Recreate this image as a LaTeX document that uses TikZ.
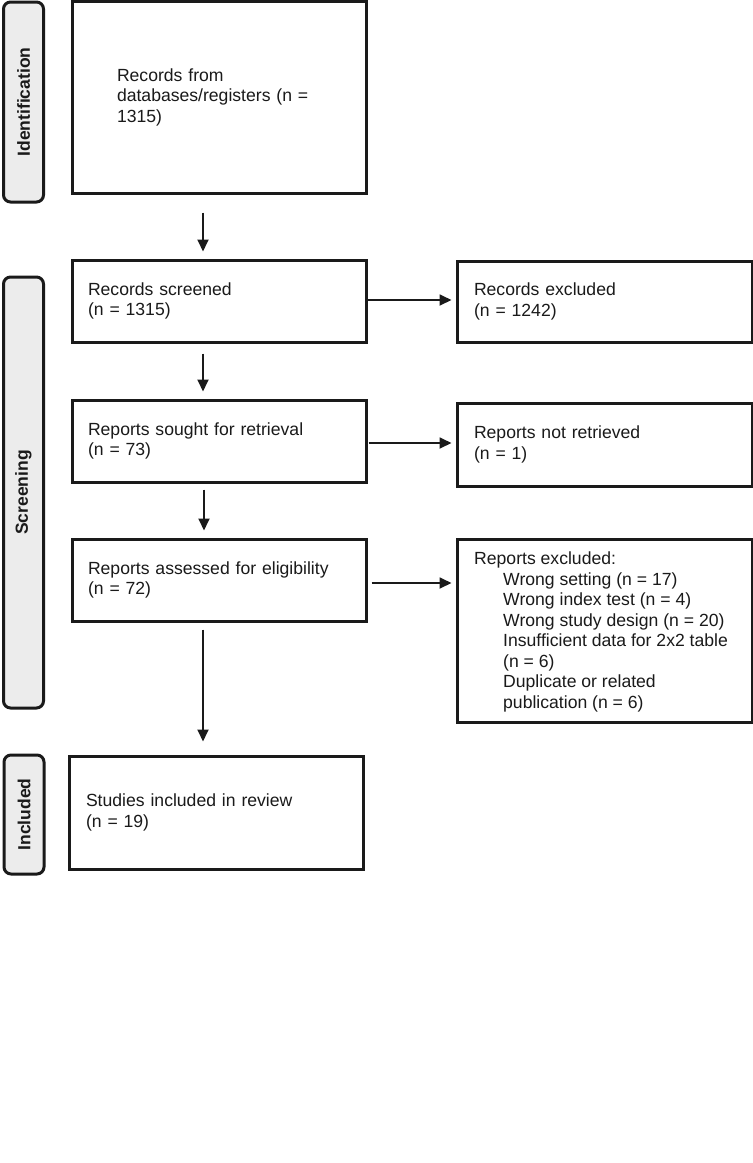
\documentclass[tikz,border=0pt]{standalone}
\usepackage{fontspec}
\setmainfont{Liberation Sans}
\usetikzlibrary{arrows.meta}
\definecolor{ink}{HTML}{1A1A1A}
\definecolor{sidefill}{HTML}{ECECEC}
\begin{document}
\begin{tikzpicture}[x=1pt,y=-1pt,
  box/.style={draw=ink, line width=3pt, rectangle, align=left, inner ysep=0pt, text=ink,
    font=\fontsize{17.6}{20.5}\selectfont},
  plain/.style={inner sep=0pt, align=left, text=ink, font=\fontsize{17.6}{20.5}\selectfont},
  side/.style={draw=ink, line width=3pt, rounded corners=7pt, fill=sidefill, minimum width=40pt, inner sep=0pt},
  sidetext/.style={rotate=90, inner sep=0pt, font=\fontsize{17.5}{20}\selectfont\bfseries, text=ink},
  arr/.style={draw=ink, line width=1.8pt, -{Triangle[length=12pt,width=11pt]}}
]
\useasboundingbox (0,0) rectangle (753,1163);
\path[fill=white] (0,0) rectangle (753,1163);

% side phase boxes
\node[side, minimum height=200pt] (sid) at (23.5,102) {};
\node[sidetext] (sidt) at (sid.center) {Identification};
\node[side, minimum height=431pt] (sscr) at (23.5,492.5) {};
\node[sidetext] (sscrt) at (sscr.center) {Screening};
\node[side, minimum height=119pt] (sinc) at (24,814.5) {};
\node[sidetext] (sinct) at (sinc.center) {Included};

% main column
\node[box, minimum width=294pt, minimum height=192pt, inner xsep=45pt, text width=204pt] (b1) at (219,97)
  {Records from\\databases/registers (n =\\1315)};
\node[box, minimum width=294pt, minimum height=82pt, inner xsep=16pt, text width=262pt] (b2) at (219,301)
  {Records screened\\(n = 1315)};
\node[box, minimum width=294pt, minimum height=82pt, inner xsep=16pt, text width=262pt] (b3) at (219,441)
  {Reports sought for retrieval\\(n = 73)};
\node[box, minimum width=294pt, minimum height=82pt, inner xsep=16pt, text width=262pt] (b4) at (219,580)
  {Reports assessed for eligibility\\(n = 72)};
\node[box, minimum width=294pt, minimum height=113pt, inner xsep=17pt, text width=260pt] (b5) at (216,812.5)
  {Studies included in review\\(n = 19)};

% right column
\node[box, minimum width=295pt, minimum height=81pt, inner xsep=17pt, text width=261pt] (r1) at (604.5,301.5)
  {Records excluded\\(n = 1242)};
\node[box, minimum width=295pt, minimum height=83pt, inner xsep=17pt, text width=261pt] (r2) at (604.5,444.5)
  {Reports not retrieved\\(n = 1)};
\node[box, minimum width=295pt, minimum height=183pt] (r3) at (604.5,630.5) {};
\node[plain, anchor=north west] (r3t) at (474,552)
  {Reports excluded:\\
   \hspace*{29pt}Wrong setting (n = 17)\\
   \hspace*{29pt}Wrong index test (n = 4)\\
   \hspace*{29pt}Wrong study design (n = 20)\\
   \hspace*{29pt}Insufficient data for 2x2 table\\
   \hspace*{29pt}(n = 6)\\
   \hspace*{29pt}Duplicate or related\\
   \hspace*{29pt}publication (n = 6)};

% vertical arrows
\coordinate (a1) at ([xshift=-16pt]b1.south);
\draw[arr, shorten <=18pt, shorten >=7pt] (a1) -- (a1 |- b2.north);
\coordinate (a2) at ([xshift=-16pt]b2.south);
\draw[arr, shorten <=10pt, shorten >=7pt] (a2) -- (a2 |- b3.north);
\coordinate (a3) at ([xshift=-15pt]b3.south);
\draw[arr, shorten <=6pt, shorten >=7pt] (a3) -- (a3 |- b4.north);
\coordinate (a4) at ([xshift=-16pt]b4.south);
\draw[arr, shorten <=7pt, shorten >=13pt] (a4) -- (a4 |- b5.north);

% horizontal arrows
\coordinate (h1) at ([yshift=1pt]b2.east);
\draw[arr, shorten >=4pt] (h1) -- (h1 -| r1.west);
\coordinate (h2) at ([yshift=-2pt]b3.east);
\draw[arr, shorten <=1pt, shorten >=4pt] (h2) -- (h2 -| r2.west);
\coordinate (h3) at ([yshift=-3pt]b4.east);
\draw[arr, shorten <=4pt, shorten >=4pt] (h3) -- (h3 -| r3.west);
\end{tikzpicture}
\end{document}
